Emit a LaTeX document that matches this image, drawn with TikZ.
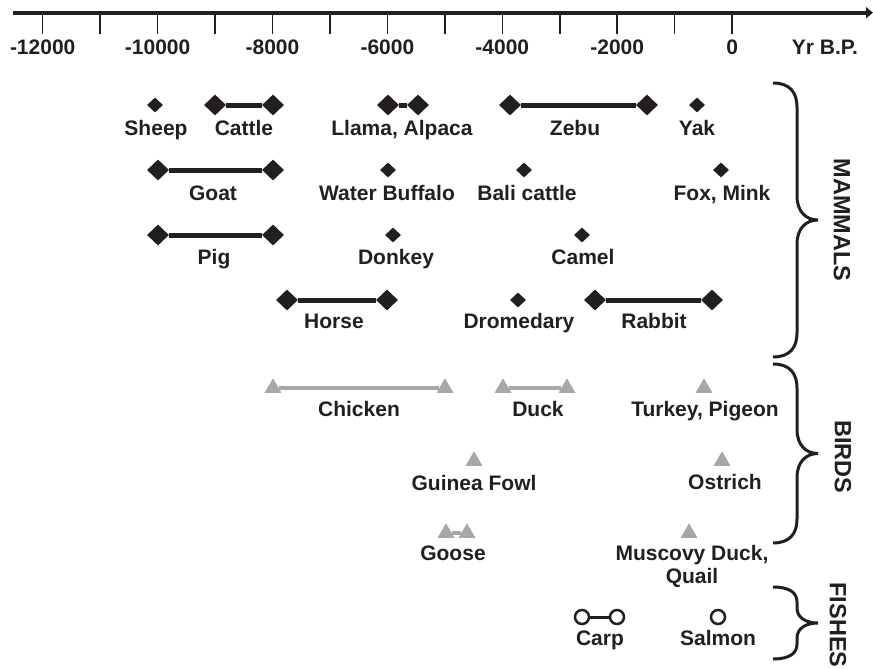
\documentclass[tikz,border=0pt]{standalone}
\usepackage{fontspec}
\setmainfont{Liberation Sans}
\usepackage{xcolor}
\usepackage{tikz}
\usetikzlibrary{shapes.geometric,arrows.meta,positioning}

\definecolor{ink}{RGB}{35,31,32}
\definecolor{birdgray}{RGB}{166,167,171}

\begin{document}
\begin{tikzpicture}[x=1pt, y=-1pt,
                    lbl/.style={anchor=base, text=ink, inner sep=0pt,
                    font=\fontsize{21}{22.5}\selectfont\bfseries},
                    grplbl/.style={rotate=-90, text=ink, inner sep=0pt,
                    font=\fontsize{23.5}{26}\selectfont\bfseries},
                    dia/.style={diamond, fill=ink, inner sep=0pt,
                    minimum width=16pt, minimum height=15pt},
                    bigdia/.style={dia, minimum width=22pt, minimum height=21pt},
                    tri/.style={regular polygon, regular polygon sides=3,
                    fill=birdgray, inner sep=0pt, minimum size=19.5pt},
                    fish/.style={circle, draw=ink, fill=white, line width=2.5pt,
                    inner sep=0pt, minimum size=14pt},
                    mspan/.style={ink, line width=5pt},
                    bspan/.style={birdgray, line width=4pt},
                    fspan/.style={ink, line width=3pt},
                    brc/.style={ink, line width=3pt}]
    \useasboundingbox (0,0) rectangle (873,669);

    % time axis
    \coordinate (ax0) at (12.7,12.7);
    \coordinate (ax1) at (873,12.7);
    \draw[ink, line width=4pt, -{Triangle[length=7pt,width=11pt]}] (ax0) -- (ax1);
    \foreach \k in {0,...,12}
        \draw[ink, line width=1.5pt] ({42.7+57.45*\k},14) -- ({42.7+57.45*\k},34);
    \foreach \yr [count=\k] in {-12000,-10000,...,0}
        \node[lbl] (yr\k) at ({42.7+(\yr+12000)*0.05745},55) {\yr};
    \node[lbl] (unit) at (825,55) {Yr B.P.};

    % mammals
    \node[dia] (sheep) at (155,105) {};
    \node[lbl] (sheepL) at (156,135.5) {Sheep};
    \node[bigdia] (cattleA) at (215,105) {};
    \node[bigdia] (cattleB) at (273,105) {};
    \draw[mspan] (cattleA) -- (cattleB);
    \node[lbl] (cattleL) at (244,135.5) {Cattle};
    \node[bigdia] (llamaA) at (388,105) {};
    \node[bigdia] (llamaB) at (418,105) {};
    \draw[mspan] (llamaA) -- (llamaB);
    \node[lbl] (llamaL) at (402,135.5) {Llama, Alpaca};
    \node[bigdia] (zebuA) at (510,105) {};
    \node[bigdia] (zebuB) at (647,105) {};
    \draw[mspan] (zebuA) -- (zebuB);
    \node[lbl] (zebuL) at (575,135.5) {Zebu};
    \node[dia] (yak) at (697,105) {};
    \node[lbl] (yakL) at (697,135.5) {Yak};

    \node[bigdia] (goatA) at (158,170) {};
    \node[bigdia] (goatB) at (273,170) {};
    \draw[mspan] (goatA) -- (goatB);
    \node[lbl] (goatL) at (213,200.5) {Goat};
    \node[dia] (buffalo) at (388,170) {};
    \node[lbl] (buffaloL) at (387,200.5) {Water Buffalo};
    \node[dia] (bali) at (524,170) {};
    \node[lbl] (baliL) at (527,200.5) {Bali cattle};
    \node[dia] (fox) at (721,170) {};
    \node[lbl] (foxL) at (722,200.5) {Fox, Mink};

    \node[bigdia] (pigA) at (158,235) {};
    \node[bigdia] (pigB) at (273,235) {};
    \draw[mspan] (pigA) -- (pigB);
    \node[lbl] (pigL) at (214,264.5) {Pig};
    \node[dia] (donkey) at (393,235) {};
    \node[lbl] (donkeyL) at (396,264.5) {Donkey};
    \node[dia] (camel) at (582,235) {};
    \node[lbl] (camelL) at (583,264.5) {Camel};

    \node[bigdia] (horseA) at (287,300) {};
    \node[bigdia] (horseB) at (387,300) {};
    \draw[mspan] (horseA) -- (horseB);
    \node[lbl] (horseL) at (334,328.5) {Horse};
    \node[dia] (drom) at (518,300) {};
    \node[lbl] (dromL) at (519,328.5) {Dromedary};
    \node[bigdia] (rabbitA) at (595,300) {};
    \node[bigdia] (rabbitB) at (712,300) {};
    \draw[mspan] (rabbitA) -- (rabbitB);
    \node[lbl] (rabbitL) at (654,328.5) {Rabbit};

    % birds
    \node[tri] (chickenA) at (273,388) {};
    \node[tri] (chickenB) at (445,388) {};
    \draw[bspan] (chickenA) -- (chickenB);
    \node[lbl] (chickenL) at (359,416.5) {Chicken};
    \node[tri] (duckA) at (503,388) {};
    \node[tri] (duckB) at (567,388) {};
    \draw[bspan] (duckA) -- (duckB);
    \node[lbl] (duckL) at (538,416.5) {Duck};
    \node[tri] (turkey) at (704,388) {};
    \node[lbl] (turkeyL) at (705,416.5) {Turkey, Pigeon};

    \node[tri] (guinea) at (474,461) {};
    \node[lbl] (guineaL) at (474,490) {Guinea Fowl};
    \node[tri] (ostrich) at (722,461) {};
    \node[lbl] (ostrichL) at (725,489.5) {Ostrich};

    \node[tri] (gooseA) at (446,533) {};
    \node[tri] (gooseB) at (467,533) {};
    \draw[bspan] (gooseA) -- (gooseB);
    \node[lbl] (gooseL) at (453,560.5) {Goose};
    \node[tri] (muscovy) at (689,533) {};
    \node[lbl, align=center] (muscovyL) at (692,583) {Muscovy Duck,\\Quail};

    % fishes
    \node[fish] (carpA) at (582,617) {};
    \node[fish] (carpB) at (617,617) {};
    \draw[fspan] (carpA) -- (carpB);
    \node[lbl] (carpL) at (600,645.5) {Carp};
    \node[fish] (salmon) at (718,617) {};
    \node[lbl] (salmonL) at (718,645.5) {Salmon};

    % group braces
    \foreach \t/\b/\c in {83/357/24, 364/543/24, 587/659/15}
        \draw[brc] (773,\t) .. controls (790,\t) and (797,{\t+\c*0.4}) .. (797,\t+\c)
            -- (797,{(\t+\b)/2-\c})
            .. controls (797,{(\t+\b)/2-\c*0.35}) and (806,{(\t+\b)/2}) .. (818,{(\t+\b)/2})
            .. controls (806,{(\t+\b)/2}) and (797,{(\t+\b)/2+\c*0.35}) .. (797,{(\t+\b)/2+\c})
            -- (797,\b-\c) .. controls (797,{\b-\c*0.4}) and (790,\b) .. (773,\b);
    \node[grplbl] (mammals) at (842,220) {MAMMALS};
    \node[grplbl] (birds) at (843,457) {BIRDS};
    \node[grplbl] (fishes) at (838,625) {FISHES};

\end{tikzpicture}
\end{document}
